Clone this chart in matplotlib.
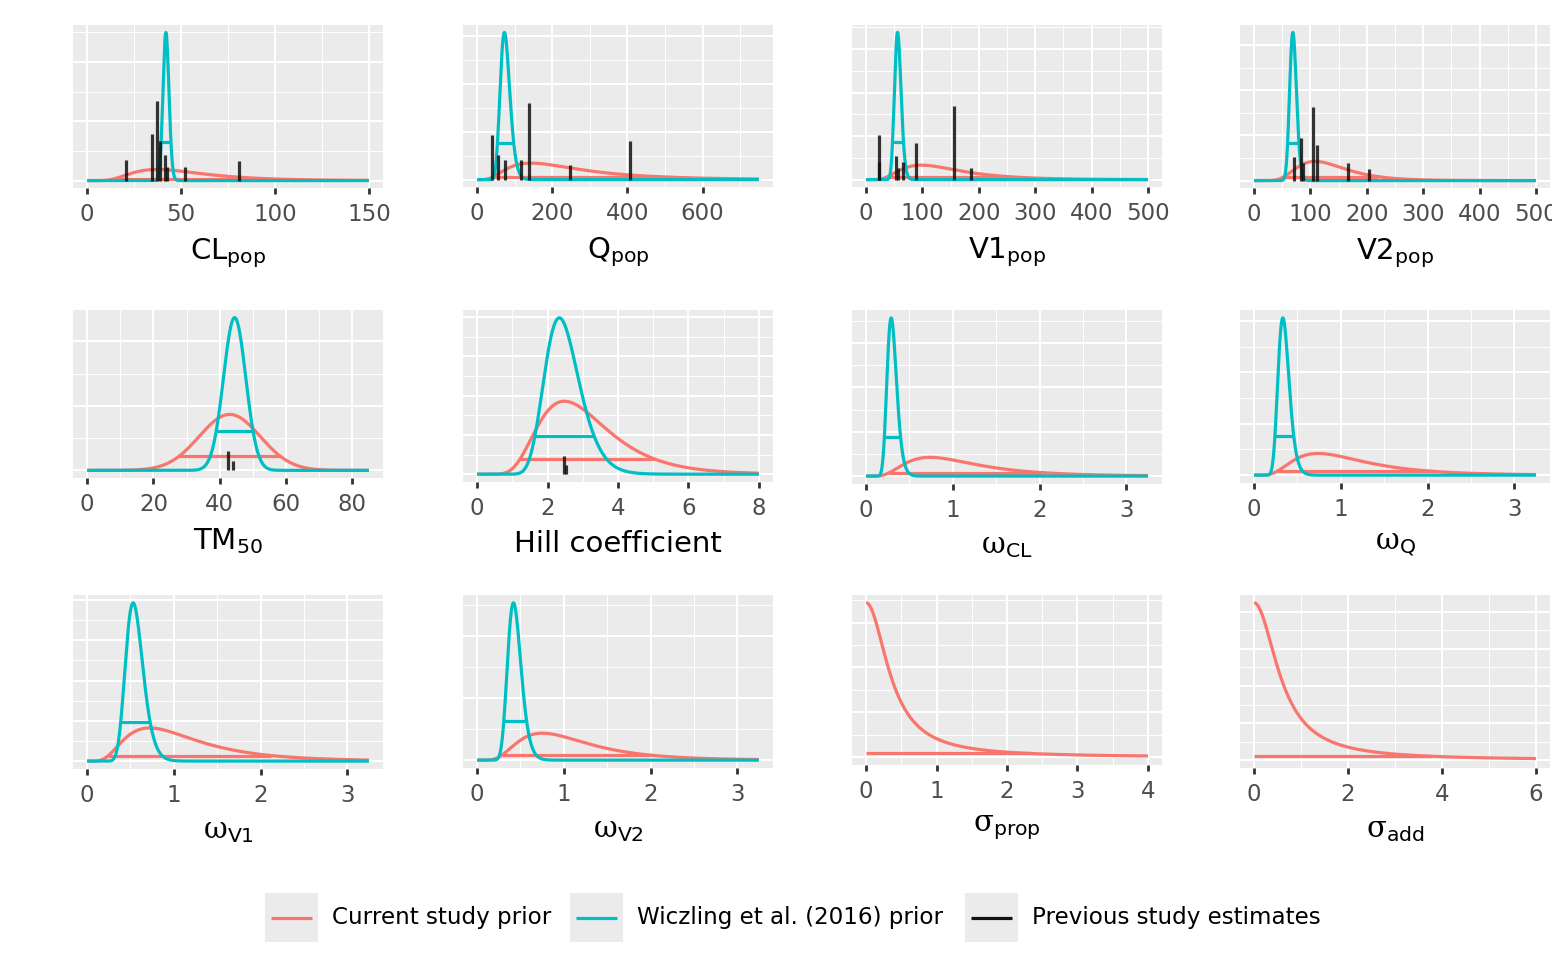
import math
import numpy as np
import matplotlib
matplotlib.use("Agg")
import matplotlib.pyplot as plt
from matplotlib.patches import Rectangle
from matplotlib.ticker import MaxNLocator, FixedLocator

plt.rcParams["font.family"] = ["DejaVu Sans"]
plt.rcParams["mathtext.fontset"] = "custom"
plt.rcParams["mathtext.rm"] = "DejaVu Sans"
plt.rcParams["mathtext.sf"] = "DejaVu Serif"

# ---------------------------------------------------------------- data
param_labels = [
    r"$\mathrm{CL_{pop}}$", r"$\mathrm{Q_{pop}}$", r"$\mathrm{V1_{pop}}$", r"$\mathrm{V2_{pop}}$",
    r"$\mathrm{TM_{50}}$", "Hill coefficient", r"$\mathsf{\omega}_\mathrm{CL}$", r"$\mathsf{\omega}_\mathrm{Q}$",
    r"$\mathsf{\omega}_\mathrm{V1}$", r"$\mathsf{\omega}_\mathrm{V2}$",
    r"$\mathsf{\sigma}_\mathrm{prop}$", r"$\mathsf{\sigma}_\mathrm{add}$",
]
x_upper = [150, 750, 500, 500, 85, 8, 3.25, 3.25, 3.25, 3.25, 4, 6]
x_breaks = [
    [0, 50, 100, 150], [0, 200, 400, 600], [0, 100, 200, 300, 400, 500], [0, 100, 200, 300, 400, 500],
    [0, 20, 40, 60, 80], [0, 2, 4, 6, 8], [0, 1, 2, 3], [0, 1, 2, 3],
    [0, 1, 2, 3], [0, 1, 2, 3], [0, 1, 2, 3, 4], [0, 2, 4, 6],
]

# Current study priors: lognormal (median, log-sd), normal (mean, sd), half-Cauchy (-, scale)
cur_kind = ["lnorm", "lnorm", "lnorm", "lnorm", "norm", "lnorm",
            "lnorm", "lnorm", "lnorm", "lnorm", "hcauchy", "hcauchy"]
cur_a = [48, 220, 130, 127, 43, 2.91, 1.0, 1.0, 1.0, 1.0, 0, 0]
cur_b = [0.5, 0.65, 0.53, 0.40, 9.2, 0.40, 0.55, 0.55, 0.57, 0.53, 0.37, 0.60]

# Wiczling et al. (2016) priors
wic_kind = ["lnorm", "lnorm", "lnorm", "lnorm", "norm", "lnorm",
            "lnorm", "lnorm", "lnorm", "lnorm", None, None]
wic_a = [42, 75, 56.4, 69.3, 44.5, 2.44, 0.30, 0.344, 0.55, 0.434, None, None]
wic_b = [0.038, 0.176, 0.105, 0.088, 3.37, 0.21, 0.19, 0.193, 0.188, 0.185, None, None]

# Previous study estimates: value and relative weight (fraction of panel height)
prev_x = [
    [20.8, 34.8, 37.3, 38.9, 41.7, 42.3, 52.2, 81.1],
    [40.9, 56, 75.6, 117, 137, 246, 407],
    [22.5, 22.5, 52.2, 56, 65, 89, 156, 187],
    [70, 84, 86, 104.5, 112, 167, 204],
    [42.5, 44],
    [2.46, 2.53],
    [], [], [], [], [], [],
]
prev_h = [
    [0.137, 0.316, 0.534, 0.265, 0.175, 0.09, 0.09, 0.13],
    [0.30, 0.17, 0.13, 0.13, 0.52, 0.10, 0.26],
    [0.30, 0.12, 0.16, 0.08, 0.12, 0.25, 0.50, 0.08],
    [0.16, 0.29, 0.12, 0.50, 0.24, 0.12, 0.08],
    [0.13, 0.06],
    [0.116, 0.06],
    [], [], [], [], [], [],
]

RED = "#F8766D"
TEAL = "#00BFC4"
HDI_MASS = 0.90


# ---------------------------------------------------------------- helpers
def phi_cdf(z):
    return 0.5 * (1.0 + math.erf(z / math.sqrt(2.0)))


def pdf(kind, a, b, x):
    x = np.asarray(x, dtype=float)
    if kind == "norm":
        return np.exp(-0.5 * ((x - a) / b) ** 2) / (b * math.sqrt(2 * math.pi))
    if kind == "lnorm":
        out = np.zeros_like(x)
        m = x > 0
        out[m] = np.exp(-0.5 * ((np.log(x[m]) - math.log(a)) / b) ** 2) / (x[m] * b * math.sqrt(2 * math.pi))
        return out
    # half-Cauchy
    return np.where(x >= 0, 2.0 / (math.pi * b * (1.0 + (x / b) ** 2)), 0.0)


def hdi(kind, a, b, mass=HDI_MASS):
    """Highest-density interval of a unimodal prior."""
    if kind == "norm":
        lo, hi = 0.0, 10.0
        for _ in range(80):
            mid = 0.5 * (lo + hi)
            if phi_cdf(mid) - phi_cdf(-mid) < mass:
                lo = mid
            else:
                hi = mid
        return a - hi * b, a + hi * b
    if kind == "lnorm":
        # equal-density bounds in z-space satisfy z1 = -2*sigma - z2
        lo, hi = -2 * b, 20.0
        for _ in range(100):
            mid = 0.5 * (lo + hi)
            if phi_cdf(mid) - phi_cdf(-2 * b - mid) < mass:
                lo = mid
            else:
                hi = mid
        z2 = hi
        z1 = -2 * b - z2
        return a * math.exp(b * z1), a * math.exp(b * z2)
    return 0.0, b * math.tan(math.pi * mass / 2)


# ---------------------------------------------------------------- layout
W, H = 1552, 966
fig = plt.figure(figsize=(W / 100, H / 100), dpi=100)
fig.patch.set_facecolor("white")

col_left = [73, 463, 852, 1240]
panel_w = 310
row_top = [25, 310, 595]
row_bottom = [[188, 187, 187, 188], [478, 482, 484, 483], [769, 768, 765, 768]]

for i in range(12):
    r, c = divmod(i, 4)
    left, top, bottom = col_left[c], row_top[r], row_bottom[r][c]
    ax = fig.add_axes([left / W, 1 - bottom / H, panel_w / W, (bottom - top) / H])
    ax.set_facecolor("#EBEBEB")
    for s in ax.spines.values():
        s.set_visible(False)

    xmax = x_upper[i]
    xs = np.linspace(0, xmax, 2001)

    curves = [(cur_kind[i], cur_a[i], cur_b[i], RED)]
    if wic_kind[i] is not None:
        curves.append((wic_kind[i], wic_a[i], wic_b[i], TEAL))

    ymax = max(pdf(kind, a, b, xs).max() for kind, a, b, _ in curves)

    for kind, a, b, col in curves:
        ys = pdf(kind, a, b, xs)
        ax.plot(xs, ys, color=col, lw=2.3, solid_capstyle="butt", zorder=3)
        lo, hi = hdi(kind, a, b)
        level = float(pdf(kind, a, b, [hi])[0])
        ax.plot([max(lo, 0), min(hi, xmax)], [level, level], color=col, lw=2.3,
                solid_capstyle="butt", zorder=3)

    for xv, hv in zip(prev_x[i], prev_h[i]):
        ax.plot([xv, xv], [0, hv * ymax], color="#111111", alpha=0.85, lw=2.3,
                solid_capstyle="butt", zorder=4)

    pad_x = 0.05 * xmax
    ax.set_xlim(-pad_x, xmax + pad_x)
    ax.set_ylim(-0.05 * ymax, 1.05 * ymax)

    br = x_breaks[i]
    step = br[1] - br[0]
    ext = [br[0] - step] + br + [br[-1] + step]
    minors = [(u + v) / 2 for u, v in zip(ext[:-1], ext[1:])]
    minors = [m for m in minors if -pad_x <= m <= xmax + pad_x]
    ax.xaxis.set_major_locator(FixedLocator(br))
    ax.xaxis.set_minor_locator(FixedLocator(minors))
    ax.set_xticklabels([("%g" % v) for v in br])

    ax.yaxis.set_major_locator(MaxNLocator(nbins=5, steps=[1, 2, 2.5, 5, 10]))
    yt = ax.get_yticks()
    if len(yt) > 1:
        d = yt[1] - yt[0]
        ym = np.arange(yt[0] - d / 2, yt[-1] + d, d)
        ax.yaxis.set_minor_locator(FixedLocator(list(ym)))

    ax.grid(which="major", color="white", lw=1.5)
    ax.grid(which="minor", color="white", lw=0.75)
    ax.set_axisbelow(True)

    ax.tick_params(axis="x", which="major", length=4.5, width=2.0, color="#333333",
                   labelsize=16.5, labelcolor="#4D4D4D", pad=6.5)
    ax.tick_params(axis="x", which="minor", length=0)
    ax.tick_params(axis="y", which="both", left=False, labelleft=False)
    ax.set_xlabel(param_labels[i], fontsize=21, labelpad=7, color="black")

# ---------------------------------------------------------------- legend
lg = fig.add_axes([0, 0, 1, 1], zorder=-1)
lg.set_xlim(0, W)
lg.set_ylim(H, 0)
lg.axis("off")
legend_items = [
    ("Current study prior", RED, 265),
    ("Wiczling et al. (2016) prior", TEAL, 570),
    ("Previous study estimates", "#111111", 965),
]
for text, col, kx in legend_items:
    lg.add_patch(Rectangle((kx, 893), 53, 49, facecolor="#EBEBEB", edgecolor="none"))
    lg.plot([kx + 6, kx + 47], [917.5, 917.5], color=col, lw=2.3, solid_capstyle="butt")
    lg.text(kx + 67, 917.5, text, fontsize=16.6, va="center", ha="left", color="black")

fig.savefig("out.png", dpi=100, facecolor="white")
